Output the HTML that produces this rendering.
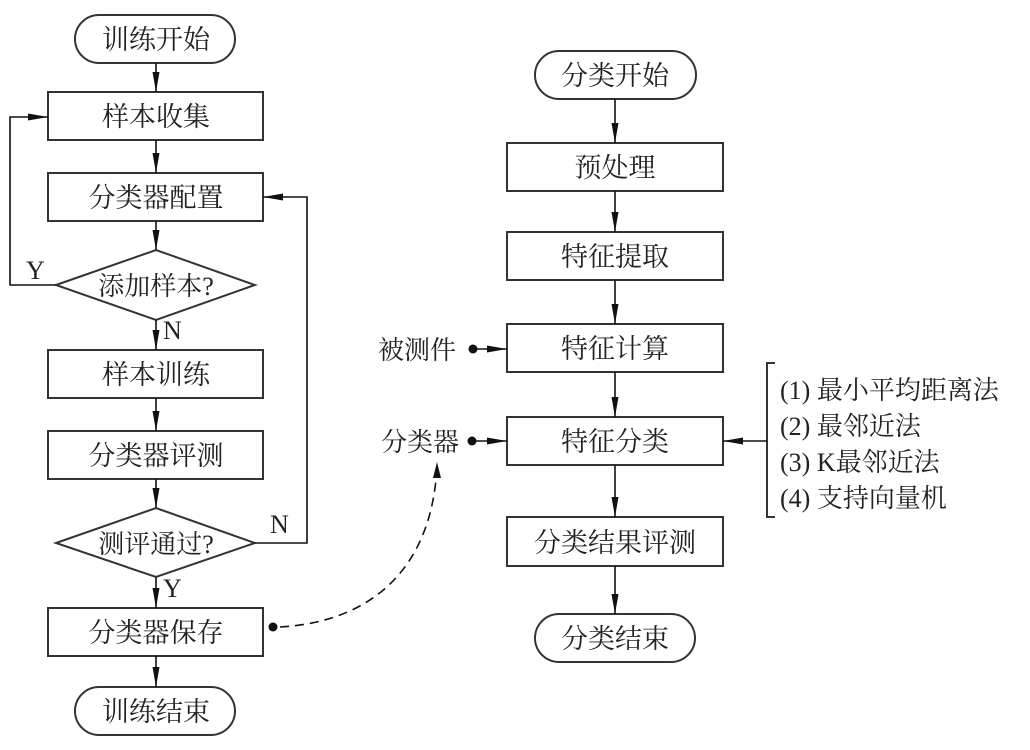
<!DOCTYPE html>
<html><head><meta charset="utf-8"><style>
html,body{margin:0;padding:0;background:#fff;}
svg{display:block}
text{font-family:"Liberation Serif","Noto Serif CJK SC","Noto Sans CJK SC",serif;fill:#222;}
</style></head><body>
<svg width="1030" height="750" viewBox="0 0 1030 750" xmlns="http://www.w3.org/2000/svg">
<defs>
<marker id="a" markerWidth="10" markerHeight="8" refX="10" refY="4" orient="auto" markerUnits="userSpaceOnUse">
<path d="M0,0 L10,4 L0,8 Z" fill="#111"/></marker>
<marker id="b" markerWidth="20" markerHeight="10" refX="20" refY="5" orient="auto" markerUnits="userSpaceOnUse">
<path d="M0,1.5 L20,5 L0,8.5 Z" fill="#111"/></marker>
</defs>
<g stroke="#333" stroke-width="2" fill="none">
<!-- left column -->
<rect x="75" y="15" width="160" height="48" rx="24"/>
<rect x="48" y="92" width="215" height="48"/>
<rect x="48" y="173" width="215" height="48"/>
<polygon points="56,285 156,250 255,285 156,320"/>
<rect x="48" y="350" width="215" height="48"/>
<rect x="48" y="431" width="215" height="48"/>
<polygon points="56,543 156,508 255,543 156,577"/>
<rect x="48" y="608" width="215" height="48"/>
<rect x="75" y="687" width="160" height="48" rx="24"/>
<!-- right column -->
<rect x="535" y="51" width="161" height="48" rx="24"/>
<rect x="507" y="143" width="216" height="48"/>
<rect x="507" y="232" width="216" height="48"/>
<rect x="507" y="324" width="216" height="48"/>
<rect x="507" y="417" width="216" height="48"/>
<rect x="507" y="517" width="216" height="49"/>
<rect x="535" y="614" width="160" height="48" rx="24"/>
<path d="M775,363 H767 V517 H775"/>
</g>
<g stroke="#111" stroke-width="1.6" fill="none" marker-end="url(#b)">
<line x1="156" y1="63" x2="156" y2="92"/>
<line x1="156" y1="140" x2="156" y2="173"/>
<line x1="156" y1="221" x2="156" y2="250"/>
<line x1="156" y1="320" x2="156" y2="350"/>
<line x1="156" y1="398" x2="156" y2="431"/>
<line x1="156" y1="479" x2="156" y2="508"/>
<line x1="156" y1="577" x2="156" y2="608"/>
<line x1="156" y1="656" x2="156" y2="687"/>
<polyline points="56,285 10,285 10,117 48,117"/>
<polyline points="255,543 307,543 307,197 263,197"/>
<line x1="615" y1="99" x2="615" y2="143"/>
<line x1="615" y1="191" x2="615" y2="232"/>
<line x1="615" y1="280" x2="615" y2="324"/>
<line x1="615" y1="372" x2="615" y2="417"/>
<line x1="615" y1="465" x2="615" y2="517"/>
<line x1="615" y1="566" x2="615" y2="614"/>
<line x1="767" y1="441" x2="723" y2="441"/>
<line x1="473" y1="349" x2="507" y2="349"/>
<line x1="472" y1="441" x2="507" y2="441"/>
</g>
<path d="M280,627 C370,622 432,570 437,466" stroke="#111" stroke-width="1.6" fill="none" stroke-dasharray="9,6"/>
<path d="M437,462 L433,478 L441,478 Z" fill="#111"/>
<circle cx="273" cy="627" r="4.5" fill="#111"/>
<circle cx="473" cy="349" r="4.5" fill="#111"/>
<circle cx="472" cy="441" r="4.5" fill="#111"/>
<g font-size="27" text-anchor="middle">
<text x="156" y="49">训练开始</text>
<text x="156" y="126">样本收集</text>
<text x="156" y="207">分类器配置</text>
<text x="156" y="295" font-size="26">添加样本?</text>
<text x="156" y="384">样本训练</text>
<text x="156" y="465">分类器评测</text>
<text x="156" y="553" font-size="26">测评通过?</text>
<text x="156" y="642">分类器保存</text>
<text x="156" y="721">训练结束</text>
<text x="615" y="85">分类开始</text>
<text x="615" y="177">预处理</text>
<text x="615" y="266">特征提取</text>
<text x="615" y="358">特征计算</text>
<text x="615" y="451">特征分类</text>
<text x="615" y="552">分类结果评测</text>
<text x="615" y="648">分类结束</text>
</g>
<g font-size="26">
<text x="378" y="359">被测件</text>
<text x="381" y="451">分类器</text>
<text x="780" y="399">(1) 最小平均距离法</text>
<text x="780" y="435">(2) 最邻近法</text>
<text x="780" y="471">(3) K最邻近法</text>
<text x="780" y="507">(4) 支持向量机</text>
<text x="26" y="279">Y</text>
<text x="163" y="339">N</text>
<text x="270" y="533">N</text>
<text x="163" y="597">Y</text>
</g>
</svg>
</body></html>
